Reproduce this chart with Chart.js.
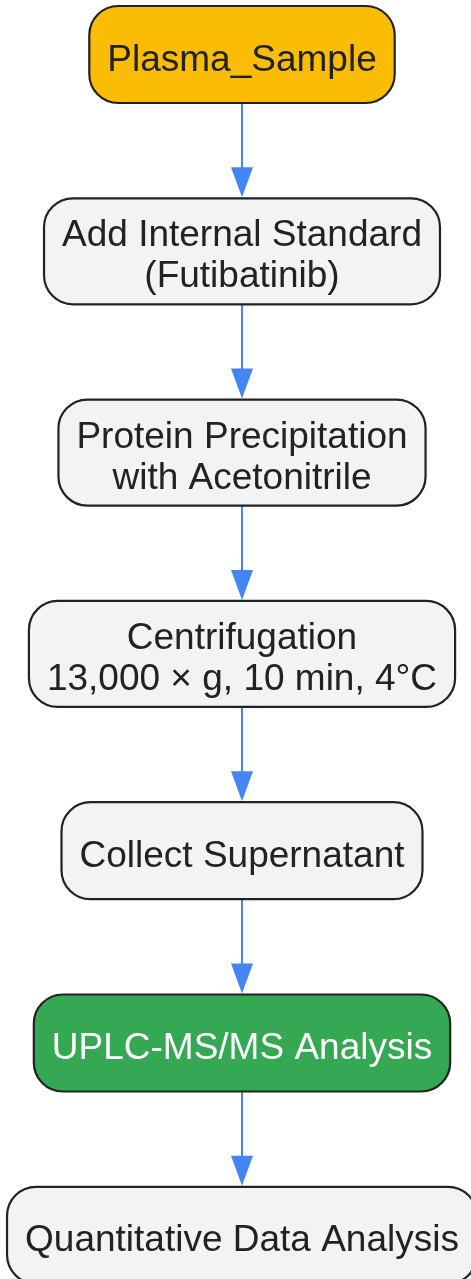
<!DOCTYPE html>
<html>
<head>
<meta charset="utf-8">
<script src="https://cdn.jsdelivr.net/npm/chart.js@4/dist/chart.umd.min.js"></script>
<style>
  html, body { margin: 0; padding: 0; background: #ffffff; }
  #wrap { width: 471px; height: 1279px; position: relative; }
</style>
</head>
<body>
<div id="wrap"><canvas id="flowChart"></canvas></div>
<script>
// Steps of the workflow, top to bottom
const stepLabels = [
    ['Plasma_Sample'],
    ['Add Internal Standard', '(Futibatinib)'],
    ['Protein Precipitation', 'with Acetonitrile'],
    ['Centrifugation', '13,000 \u00d7 g, 10 min, 4\u00b0C'],
    ['Collect Supernatant'],
    ['UPLC-MS/MS Analysis'],
    ['Quantitative Data Analysis']
];
const stepKinds = ['start', 'process', 'process', 'process', 'process', 'analysis', 'process'];
// edges: from step index -> to step index
const edgeFrom = [0, 1, 2, 3, 4, 5];
const edgeTo = [1, 2, 3, 4, 5, 6];

// styling / layout
const FONT = '37px "Liberation Sans", Arial, sans-serif';
const kindFill = { start: '#FBBC05', process: '#F1F3F4', analysis: '#34A853' };
const kindText = { start: '#222222', process: '#222222', analysis: '#FFFFFF' };
const CENTER_X = 242;
const TOP = 6;
const GAP = 95.3;
const PAD_X = 18;
const LINE_GAP = 41;
const RADIUS = 29;

// measure text to size the boxes
const mctx = document.createElement('canvas').getContext('2d');
mctx.font = FONT;

const nodes = [];
let cursorY = TOP;
stepLabels.forEach((lines, i) => {
    const h = lines.length === 1 ? 97 : 106;
    const w = Math.max(...lines.map(l => mctx.measureText(l).width)) + PAD_X * 2;
    nodes.push({ x: CENTER_X, y: cursorY + h / 2, w: w, h: h, lines: lines, kind: stepKinds[i] });
    cursorY += h + GAP;
});

function roundRect(ctx, x, y, w, h, r) {
    ctx.beginPath();
    ctx.moveTo(x + r, y);
    ctx.lineTo(x + w - r, y);
    ctx.arcTo(x + w, y, x + w, y + r, r);
    ctx.lineTo(x + w, y + h - r);
    ctx.arcTo(x + w, y + h, x + w - r, y + h, r);
    ctx.lineTo(x + r, y + h);
    ctx.arcTo(x, y + h, x, y + h - r, r);
    ctx.lineTo(x, y + r);
    ctx.arcTo(x, y, x + r, y, r);
    ctx.closePath();
}

const flowPlugin = {
    id: 'flow',
    afterDatasetsDraw(chart) {
        const ctx = chart.ctx;
        const xs = chart.scales.x;
        const ys = chart.scales.y;
        const px = v => xs.getPixelForValue(v);
        const py = v => ys.getPixelForValue(v);
        const sx = xs.width / (xs.max - xs.min);
        const sy = ys.height / (ys.max - ys.min);

        // arrows
        ctx.save();
        ctx.strokeStyle = '#4285F4';
        ctx.fillStyle = '#4285F4';
        ctx.lineWidth = 2;
        edgeFrom.forEach((f, i) => {
            const a = nodes[f], b = nodes[edgeTo[i]];
            const x = px(a.x);
            const y0 = py(a.y + a.h / 2);
            const y1 = py(b.y - b.h / 2) - 1;
            ctx.beginPath();
            ctx.moveTo(x, y0);
            ctx.lineTo(x, y1 - 28);
            ctx.stroke();
            ctx.beginPath();
            ctx.moveTo(x - 11, y1 - 30);
            ctx.lineTo(x + 11, y1 - 30);
            ctx.lineTo(x, y1);
            ctx.closePath();
            ctx.fill();
        });
        ctx.restore();

        // boxes
        nodes.forEach(n => {
            const w = n.w * sx, h = n.h * sy;
            const x = px(n.x) - w / 2, y = py(n.y) - h / 2;
            ctx.save();
            roundRect(ctx, x, y, w, h, RADIUS);
            ctx.fillStyle = kindFill[n.kind];
            ctx.fill();
            ctx.lineWidth = 2.2;
            ctx.strokeStyle = '#222222';
            ctx.stroke();
            ctx.fillStyle = kindText[n.kind];
            ctx.font = FONT;
            ctx.textAlign = 'center';
            ctx.textBaseline = 'alphabetic';
            const cy = py(n.y);
            const base = n.lines.length === 1 ? cy + 16 : cy - 5;
            n.lines.forEach((l, k) => {
                ctx.fillText(l, px(n.x), base + k * LINE_GAP);
            });
            ctx.restore();
        });
    }
};

const ctx = document.getElementById('flowChart').getContext('2d');
const chart = new Chart(ctx, {
    type: 'scatter',
    data: {
        datasets: [{
            label: 'Steps',
            data: nodes.map(n => ({ x: n.x, y: n.y })),
            pointRadius: 0
        }]
    },
    options: {
        responsive: true,
        maintainAspectRatio: false,
        animation: false,
        layout: { padding: 0 },
        plugins: {
            legend: { display: false },
            tooltip: { enabled: false }
        },
        scales: {
            x: { type: 'linear', min: 0, max: 471, display: false },
            y: { type: 'linear', min: 0, max: 1279, reverse: true, display: false }
        }
    },
    plugins: [flowPlugin]
});
</script>
</body>
</html>
